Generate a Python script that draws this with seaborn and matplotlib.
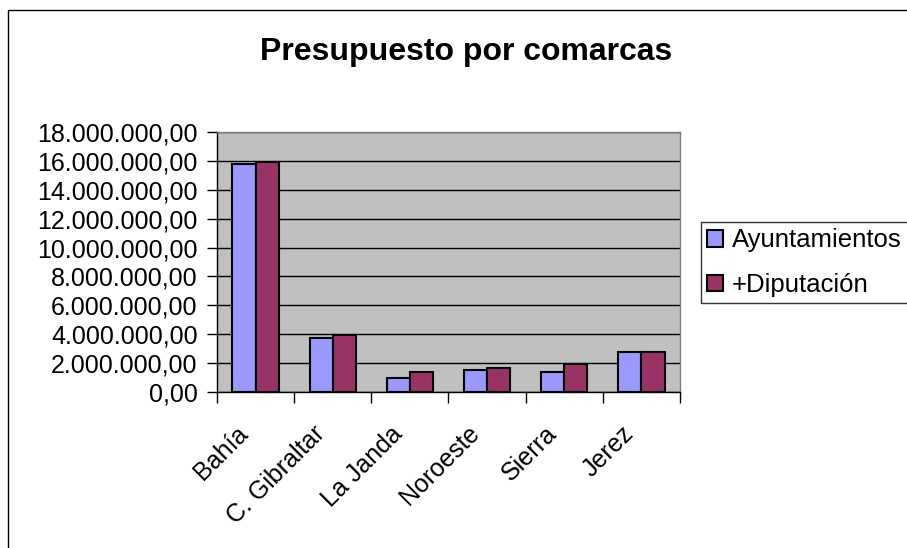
import pandas as pd
import matplotlib
matplotlib.use("Agg")
import matplotlib.pyplot as plt
import matplotlib.ticker as mticker
import matplotlib.transforms as mtransforms
from matplotlib.patches import Rectangle
import seaborn as sns

# Data
comarcas = ["Bahía", "C. Gibraltar", "La Janda", "Noroeste", "Sierra", "Jerez"]
ayuntamientos = [15770000, 3720000, 990000, 1520000, 1380000, 2750000]
diputacion = [15900000, 3970000, 1360000, 1640000, 1920000, 2760000]
series = ["Ayuntamientos", "+Diputación"]
colores = ["#9999FF", "#993366"]

df = pd.DataFrame({
    "comarca": comarcas * 2,
    "serie": [series[0]] * len(comarcas) + [series[1]] * len(comarcas),
    "valor": ayuntamientos + diputacion,
})

sns.set_style("white")
plt.rcParams["font.family"] = ["Liberation Sans", "DejaVu Sans"]
plt.rcParams["text.color"] = "black"
plt.rcParams["xtick.color"] = "black"
plt.rcParams["ytick.color"] = "black"

fig = plt.figure(figsize=(9.07, 5.48), dpi=100)
ax = fig.add_axes([217 / 907, 1 - 392 / 548, (680 - 217) / 907, (392 - 132) / 548])

sns.barplot(data=df, x="comarca", y="valor", hue="serie", hue_order=series,
            palette=colores, saturation=1, width=0.6, edgecolor="black",
            linewidth=1.5, ax=ax, legend=True)

ax.set_facecolor("#C0C0C0")
ax.set_ylim(0, 18000000)
ax.set_xlim(-0.5, len(comarcas) - 0.5)
ax.yaxis.set_major_locator(mticker.MultipleLocator(2000000))


def fmt_es(v, pos):
    s = f"{v:,.2f}"
    return s.replace(",", "X").replace(".", ",").replace("X", ".")


ax.yaxis.set_major_formatter(mticker.FuncFormatter(fmt_es))
ax.set_axisbelow(True)
ax.yaxis.grid(True, color="black", linewidth=1)
ax.xaxis.grid(False)
ax.set_xlabel("")
ax.set_ylabel("")

ax.tick_params(axis="y", direction="out", length=7, width=1, color="black",
               labelsize=18, pad=7, left=True, labelcolor="black")
ax.set_xticks(range(len(comarcas)))
ax.set_xticklabels(comarcas, rotation=45, ha="right", rotation_mode="anchor",
                   fontsize=18, color="black")
ax.tick_params(axis="x", length=0, pad=14)
ax.set_xticks([i - 0.5 for i in range(len(comarcas) + 1)], minor=True)
ax.tick_params(axis="x", which="minor", direction="out", length=8, width=1,
               color="black", bottom=True)

# shift rotated labels down-left like the original
shift = mtransforms.ScaledTranslation(-20 / 100, -10 / 100, fig.dpi_scale_trans)
for lab in ax.get_xticklabels():
    lab.set_transform(lab.get_transform() + shift)

for side in ["left", "bottom"]:
    ax.spines[side].set_color("black")
    ax.spines[side].set_linewidth(1)
for side in ["top", "right"]:
    ax.spines[side].set_color("#808080")
    ax.spines[side].set_linewidth(1)

ax.get_legend().remove()
handles, labels = ax.get_legend_handles_labels()
leg = fig.legend(handles, labels, loc="upper left",
                 bbox_to_anchor=(701 / 907, 1 - 303 / 548, 230 / 907, 81 / 548),
                 mode="expand", borderaxespad=0, fontsize=18.5, frameon=True,
                 fancybox=False, edgecolor="black", handlelength=0.6,
                 handleheight=0.6, handletextpad=0.35, labelspacing=0.8,
                 borderpad=0.25)
leg.get_frame().set_linewidth(1)

fig.text(466 / 907, 1 - 52 / 548, "Presupuesto por comarcas", ha="center",
         va="center", fontsize=23, fontweight="bold", color="black")

# outer chart border
fig.patches.append(Rectangle((8 / 907, -0.1), 1.2, 1 - 10 / 548 + 0.1,
                             transform=fig.transFigure, fill=False,
                             edgecolor="black", linewidth=1))

fig.savefig("out.png", dpi=100)
